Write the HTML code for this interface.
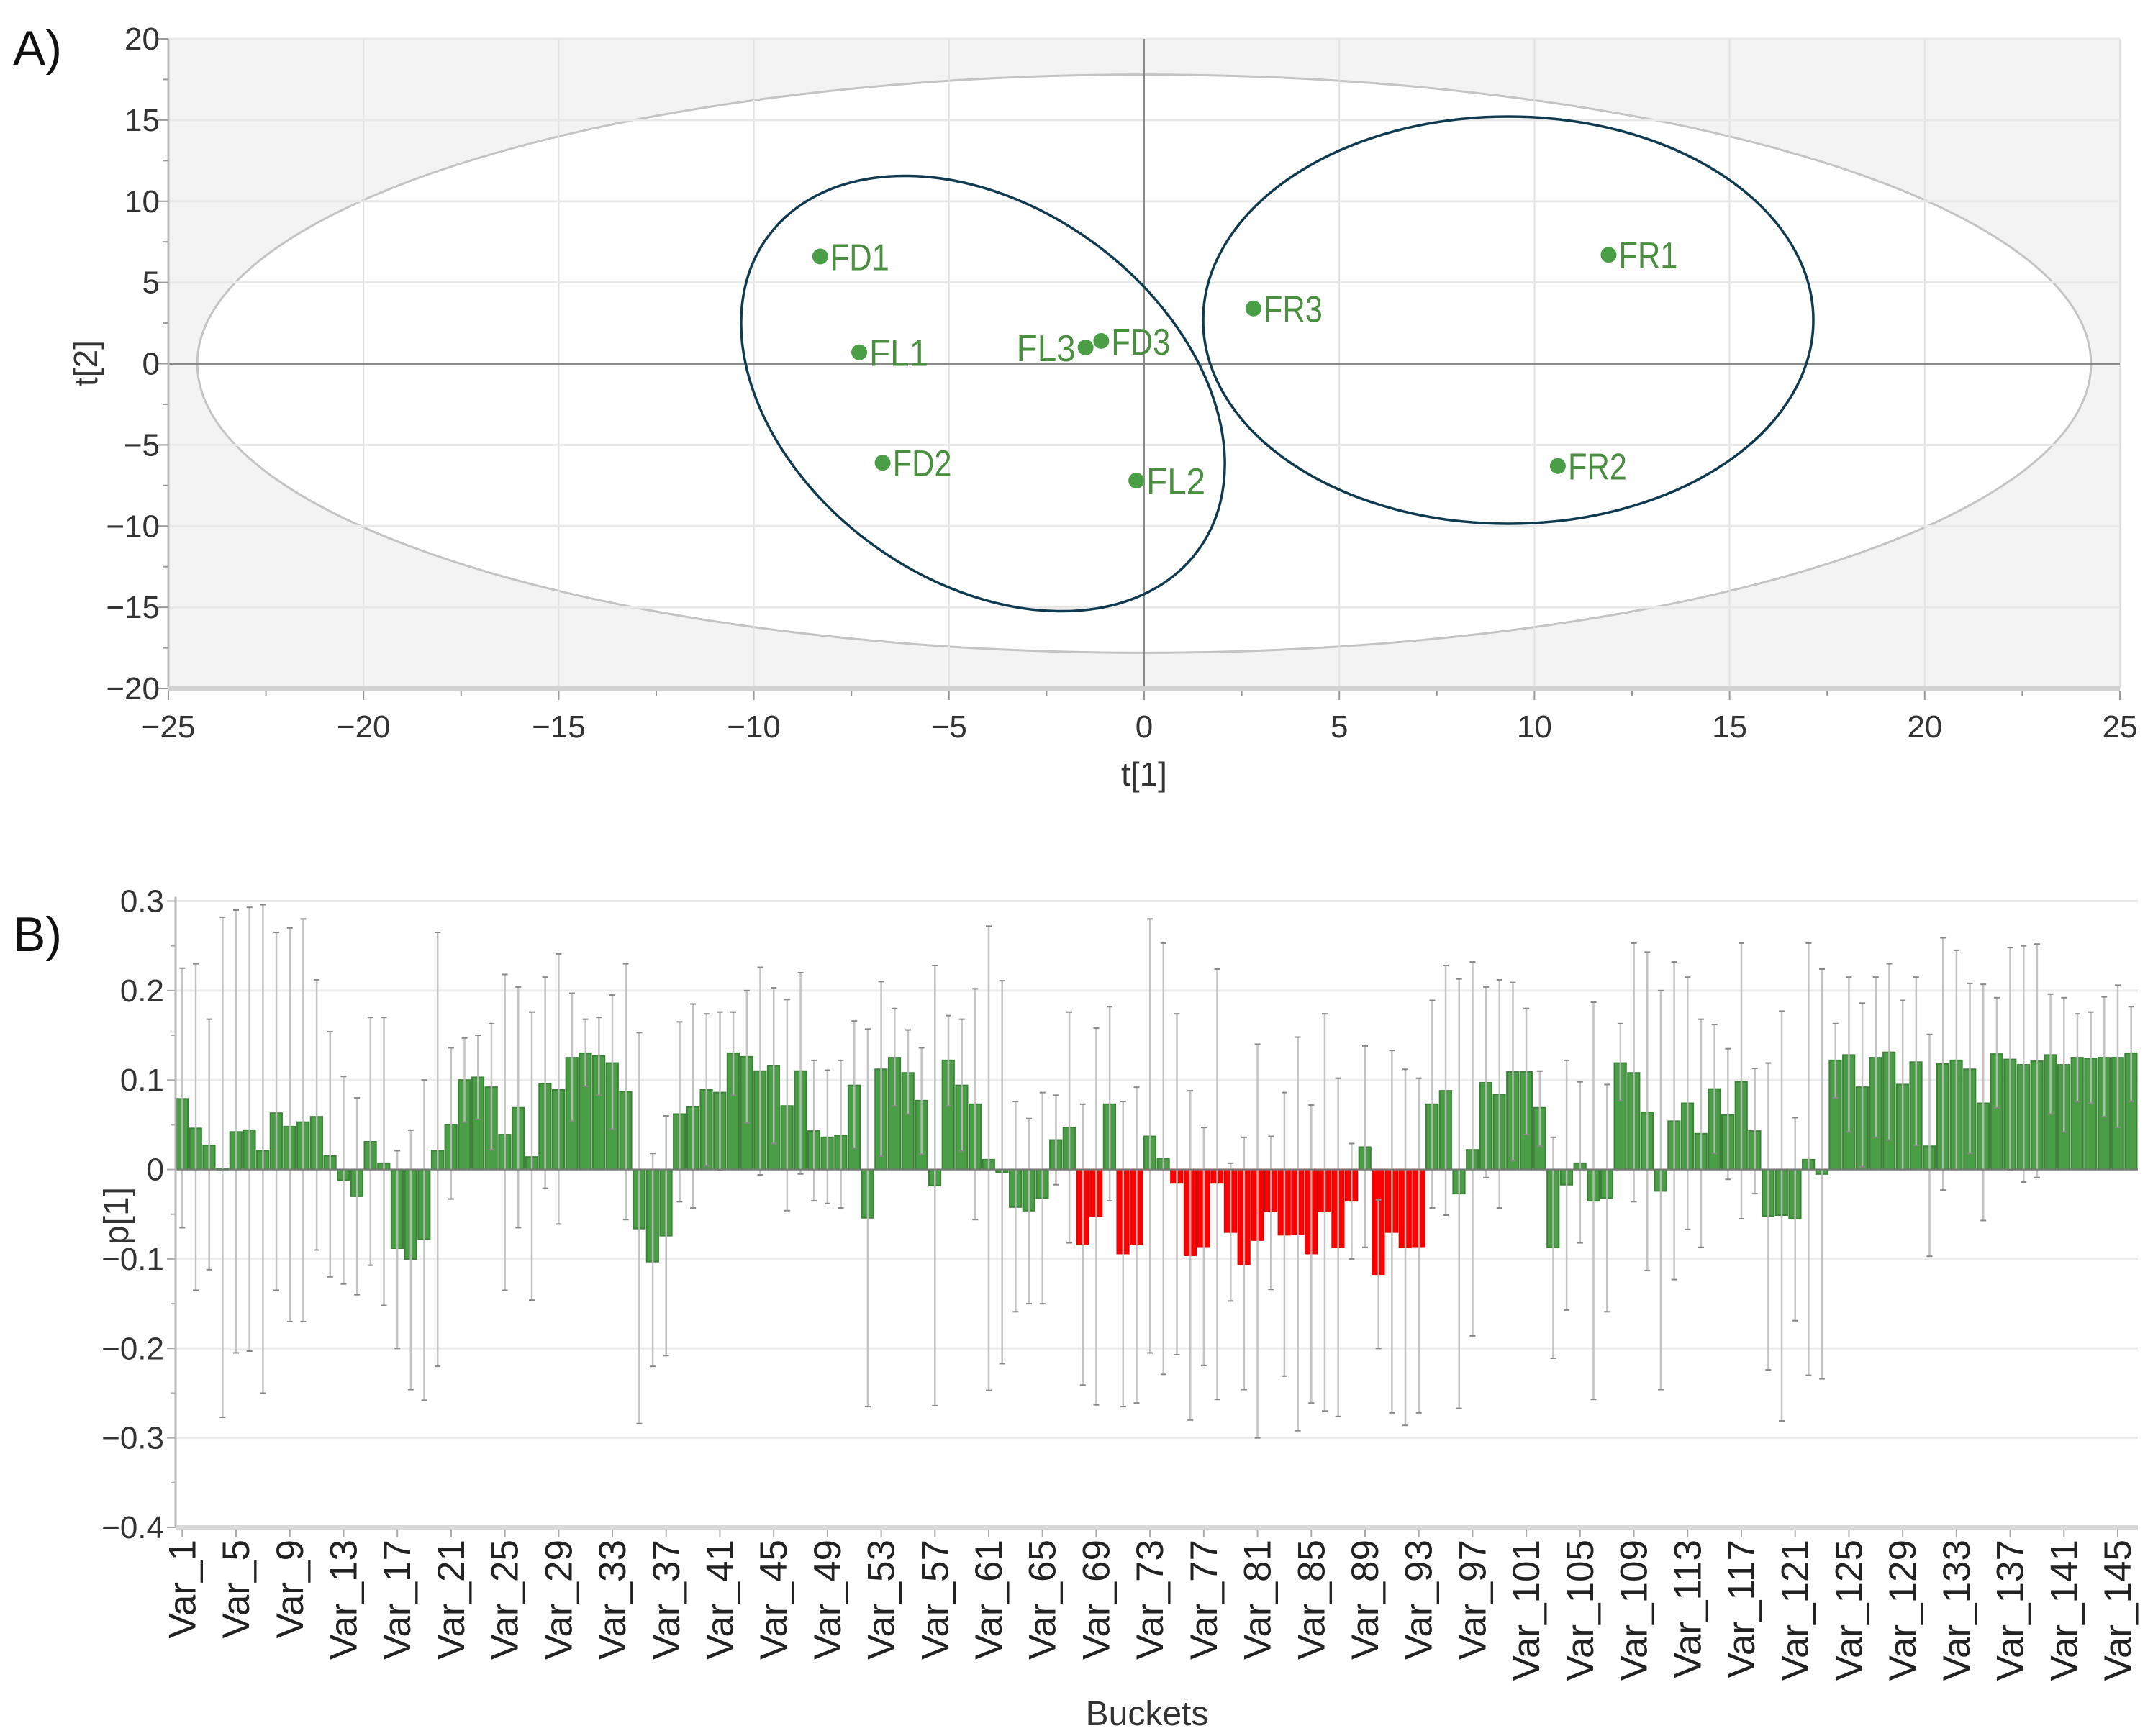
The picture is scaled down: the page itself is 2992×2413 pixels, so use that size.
<!DOCTYPE html>
<html><head><meta charset="utf-8"><style>
html,body{margin:0;padding:0;background:#fff;}
svg{display:block;font-family:"Liberation Sans",sans-serif;}
</style></head><body>
<svg id="fig" width="2992" height="2413" viewBox="0 0 2992 2413" xmlns="http://www.w3.org/2000/svg">
<g id="pa"></g>
<g id="pb"></g>
</svg>
<script>
// ---------- Panel A data ----------
const sampleNames = ["FD1","FL1","FD2","FL3","FD3","FL2","FR3","FR1","FR2"];
const t1Values = [-8.3,-7.3,-6.7,-1.5,-1.1,-0.2,2.8,11.9,10.6];
const t2Values = [6.6,0.7,-6.1,1.0,1.4,-7.2,3.4,6.7,-6.3];
const aXTicks = [-25,-20,-15,-10,-5,0,5,10,15,20,25];
const aYTicks = [-20,-15,-10,-5,0,5,10,15,20];

// ---------- Panel B data ----------
const p1Values = [0.079,0.046,0.027,0.001,0.042,0.044,0.021,0.063,0.048,0.053,0.059,0.015,-0.012,-0.03,0.031,0.007,-0.088,-0.1,-0.078,0.021,
0.05,0.1,0.103,0.092,0.039,0.069,0.014,0.096,0.089,0.125,0.13,0.127,0.119,0.087,-0.066,-0.103,-0.074,0.062,0.07,0.089,
0.086,0.13,0.126,0.11,0.116,0.071,0.11,0.043,0.036,0.038,0.094,-0.054,0.112,0.125,0.108,0.077,-0.018,0.122,0.094,0.073,
0.011,-0.003,-0.042,-0.046,-0.032,0.033,0.047,-0.084,-0.052,0.073,-0.094,-0.084,0.037,0.012,-0.015,-0.096,-0.086,-0.015,-0.07,-0.106,
-0.079,-0.047,-0.073,-0.072,-0.094,-0.047,-0.087,-0.035,0.025,-0.117,-0.07,-0.087,-0.086,0.073,0.088,-0.027,0.022,0.097,0.084,0.109,
0.109,0.069,-0.087,-0.017,0.007,-0.035,-0.032,0.119,0.108,0.064,-0.024,0.054,0.074,0.04,0.09,0.061,0.098,0.043,-0.052,-0.051,
-0.055,0.011,-0.005,0.122,0.128,0.092,0.125,0.131,0.095,0.12,0.026,0.118,0.122,0.112,0.074,0.129,0.123,0.117,0.121,0.128,
0.117,0.125,0.124,0.125,0.125,0.13];
const errHigh = [0.225,0.23,0.168,0.282,0.29,0.293,0.296,0.265,0.27,0.28,0.212,0.154,0.104,0.08,0.17,0.17,0.021,0.044,0.1,0.265,
0.136,0.147,0.15,0.163,0.218,0.204,0.176,0.215,0.241,0.197,0.168,0.17,0.195,0.23,0.153,0.018,0.06,0.165,0.185,0.174,
0.176,0.176,0.2,0.226,0.203,0.19,0.22,0.122,0.111,0.122,0.166,0.157,0.21,0.18,0.156,0.136,0.228,0.172,0.168,0.202,
0.272,0.211,0.076,0.057,0.086,0.083,0.176,0.073,0.158,0.182,0.076,0.092,0.28,0.253,0.174,0.088,0.047,0.224,0.007,0.036,
0.14,0.037,0.086,0.148,0.072,0.174,0.102,0.029,0.138,-0.034,0.133,0.112,0.102,0.189,0.228,0.213,0.232,0.204,0.212,0.209,
0.18,0.11,0.036,0.122,0.098,0.187,0.095,0.163,0.253,0.243,0.2,0.232,0.215,0.168,0.162,0.135,0.253,0.113,0.119,0.177,
0.058,0.253,0.224,0.163,0.215,0.186,0.215,0.23,0.189,0.215,0.151,0.259,0.245,0.208,0.207,0.192,0.248,0.25,0.252,0.196,
0.192,0.174,0.176,0.193,0.206,0.182];
const errLow = [-0.065,-0.135,-0.112,-0.277,-0.205,-0.203,-0.25,-0.135,-0.17,-0.17,-0.09,-0.12,-0.128,-0.14,-0.107,-0.152,-0.2,-0.246,-0.258,-0.22,
-0.033,0.053,0.056,0.022,-0.135,-0.065,-0.146,-0.021,-0.061,0.054,0.093,0.083,0.045,-0.056,-0.284,-0.22,-0.208,-0.036,-0.043,0.004,
-0.001,0.083,0.052,-0.006,0.029,-0.046,-0.005,-0.035,-0.038,-0.043,0.024,-0.265,0.015,0.071,0.062,0.017,-0.264,0.071,0.021,-0.056,
-0.247,-0.217,-0.159,-0.15,-0.15,-0.017,-0.082,-0.241,-0.263,-0.035,-0.265,-0.261,-0.205,-0.229,-0.207,-0.28,-0.219,-0.257,-0.147,-0.246,
-0.3,-0.134,-0.231,-0.292,-0.261,-0.27,-0.276,-0.1,-0.087,-0.2,-0.272,-0.286,-0.272,-0.043,-0.051,-0.267,-0.186,-0.009,-0.043,0.01,
0.039,0.026,-0.211,-0.157,-0.082,-0.257,-0.159,0.077,-0.036,-0.113,-0.246,-0.123,-0.067,-0.087,0.018,-0.011,-0.055,-0.027,-0.224,-0.281,
-0.169,-0.23,-0.234,0.08,0.042,0.003,0.036,0.033,0.0,0.027,-0.097,-0.023,0.0,0.018,-0.057,0.069,-0.001,-0.014,-0.009,0.062,
0.042,0.076,0.074,0.059,0.047,0.076];
const redVars = [68,69,71,72,75,76,77,78,79,80,81,82,83,84,85,86,87,88,90,91,92,93];
const bYTicks = [0.3,0.2,0.1,0,-0.1,-0.2,-0.3,-0.4];
const bYTickLabels = ["0.3","0.2","0.1","0","\u22120.1","\u22120.2","\u22120.3","\u22120.4"];

const NS="http://www.w3.org/2000/svg";
function mk(tag,attrs,parent){const e=document.createElementNS(NS,tag);for(const k in attrs)e.setAttribute(k,attrs[k]);parent.appendChild(e);return e;}
function fmt(v){return v<0?"\u2212"+Math.abs(v):String(v);}

// ---------- Panel A ----------
const pa=document.getElementById('pa');
const AL=234,AR=2946,AT=54,AB=957;
const ax=v=>AL+(v+25)/50*(AR-AL);
const ay=v=>AB-(v+20)/40*(AB-AT);
let r=mk('rect',{x:AL,y:AT,width:AR-AL,height:AB-AT,fill:'#f3f3f3'},pa);


let el=mk('ellipse',{cx:ax(0),cy:ay(0),rx:(ax(24.26)-ax(0)),ry:(ay(0)-ay(17.8)),fill:'#ffffff',stroke:'#c4c4c4','stroke-width':3},pa);


aXTicks.forEach(v=>{
  let g=mk('line',{x1:ax(v),x2:ax(v),y1:AT,y2:AB,stroke:'#e2e2e2','stroke-width':2},pa);
  
  
});
aYTicks.forEach(v=>{
  let g=mk('line',{x1:AL,x2:AR,y1:ay(v),y2:ay(v),stroke:'#e8e8e8','stroke-width':3},pa);
  
  
});
let z1=mk('line',{x1:ax(0),x2:ax(0),y1:AT,y2:AB,stroke:'#8a8a8a','stroke-width':2},pa);


let z2=mk('line',{x1:AL,x2:AR,y1:ay(0),y2:ay(0),stroke:'#8a8a8a','stroke-width':3},pa);


let e1=mk('ellipse',{cx:1366,cy:547,rx:370,ry:260,fill:'none',stroke:'#0f3a4f','stroke-width':3.5,transform:'rotate(36 1366 547)'},pa);


let e2=mk('ellipse',{cx:2096,cy:445,rx:424,ry:283,fill:'none',stroke:'#0f3a4f','stroke-width':3.5},pa);


let la=mk('line',{x1:AL,x2:AL,y1:AT,y2:AB,stroke:'#bbbbbb','stroke-width':3},pa);


let ba=mk('line',{x1:AL,x2:AR,y1:AB,y2:AB,stroke:'#d2d2d2','stroke-width':7},pa);


for(let v=-25;v<=25;v+=2.5){let t=mk('line',{x1:ax(v),x2:ax(v),y1:AB+3,y2:AB+(v%5===0?16:10),stroke:'#999','stroke-width':2},pa);
 }
for(let v=-20;v<=20;v+=2.5){let t=mk('line',{x1:AL-(v%5===0?14:8),x2:AL,y1:ay(v),y2:ay(v),stroke:'#999','stroke-width':2},pa);
 }
aXTicks.forEach(v=>{let t=mk('text',{x:ax(v),y:1025,'font-size':44,'text-anchor':'middle',fill:'#333'},pa);t.textContent=fmt(v);
 });
aYTicks.forEach(v=>{let t=mk('text',{x:222,y:ay(v)+15,'font-size':44,'text-anchor':'end',fill:'#333'},pa);t.textContent=fmt(v);
 });
let xt=mk('text',{x:1590,y:1092,'font-size':46,'text-anchor':'middle',fill:'#333'},pa);xt.textContent='t[1]';

let yt=mk('text',{x:135,y:505,'font-size':46,'text-anchor':'middle',fill:'#333',transform:'rotate(-90 135 505)'},pa);yt.textContent='t[2]';

let pl=mk('text',{x:18,y:90,'font-size':68,fill:'#111'},pa);pl.textContent='A)';

sampleNames.forEach((n,i)=>{
  const cx=ax(t1Values[i]),cy=ay(t2Values[i]);
  let c=mk('circle',{cx:cx,cy:cy,r:11,fill:'#4a9e46'},pa);
  
  
  const left=(n==='FL3');
  let t=mk('text',{x:left?cx-14:cx+14,y:cy+19,'font-size':52,fill:'#4a8e40','text-anchor':left?'end':'start',textLength:82,lengthAdjust:'spacingAndGlyphs'},pa);
  t.textContent=n;
  
  
});

// ---------- Panel B ----------
const pb=document.getElementById('pb');
const BL=244,BR=2971,BT=1252.5,BB=2123;
const n=p1Values.length, bw=(BR-BL)/n;
const bx=i=>BL+(i+0.5)*bw;
const by=v=>BB-(v+0.4)/0.7*(BB-BT);
bYTicks.forEach((v,k)=>{
  let g=mk('line',{x1:BL,x2:BR,y1:by(v),y2:by(v),stroke:'#ececec','stroke-width':3},pb);
  
  let t=mk('text',{x:228,y:by(v)+15,'font-size':44,'text-anchor':'end',fill:'#333'},pb);t.textContent=bYTickLabels[k];
  
  let tk=mk('line',{x1:BL-12,x2:BL,y1:by(v),y2:by(v),stroke:'#aaa','stroke-width':2},pb);
  
});
for(let v=-0.35;v<0.3;v+=0.1){let tk=mk('line',{x1:BL-7,x2:BL,y1:by(v),y2:by(v),stroke:'#aaa','stroke-width':2},pb);
 }
p1Values.forEach((v,i)=>{
  const red=redVars.includes(i+1);
  const y0=by(0),y1=by(v);
  let b=mk('rect',{x:BL+i*bw+1,y:Math.min(y0,y1),width:bw-2.5,height:Math.max(1.5,Math.abs(y1-y0)),fill:red?'#ff0000':'#4a9e46',stroke:red?'#ee0000':'#3a8236','stroke-width':2},pb);
  
  
});
p1Values.forEach((v,i)=>{
  const x=bx(i);
  let l=mk('line',{x1:x,x2:x,y1:by(errHigh[i]),y2:by(errLow[i]),stroke:'#bdbdbd','stroke-width':2.5,opacity:0.9},pb);
  
  
  [errHigh[i],errLow[i]].forEach(e=>{let c=mk('line',{x1:x-4,x2:x+4,y1:by(e),y2:by(e),stroke:'#888','stroke-width':2},pb);
    });
});
let zl=mk('line',{x1:BL,x2:BR,y1:by(0),y2:by(0),stroke:'#777','stroke-width':2},pb);

let bla=mk('line',{x1:BL,x2:BL,y1:BT-6,y2:BB,stroke:'#bbb','stroke-width':3},pb);

let bba=mk('line',{x1:BL,x2:BR,y1:BB,y2:BB,stroke:'#d8d8d8','stroke-width':6},pb);

for(let i=0;i<n;i+=4){
  let tk=mk('line',{x1:bx(i),x2:bx(i),y1:BB+3,y2:BB+14,stroke:'#aaa','stroke-width':2},pb);
  
  const X=bx(i)+18,Y=2140;
  let t=mk('text',{x:X,y:Y,'font-size':53,'text-anchor':'end',fill:'#222',transform:'rotate(-90 '+X+' '+Y+')'},pb);
  t.textContent='Var_'+(i+1);
  
}
let bxt=mk('text',{x:1594,y:2398,'font-size':48,'text-anchor':'middle',fill:'#333'},pb);bxt.textContent='Buckets';

let byt=mk('text',{x:178,y:1690,'font-size':48,'text-anchor':'middle',fill:'#333',transform:'rotate(-90 178 1690)'},pb);byt.textContent='p[1]';

let pbl=mk('text',{x:18,y:1322,'font-size':68,fill:'#111'},pb);pbl.textContent='B)';

</script>
</body></html>
